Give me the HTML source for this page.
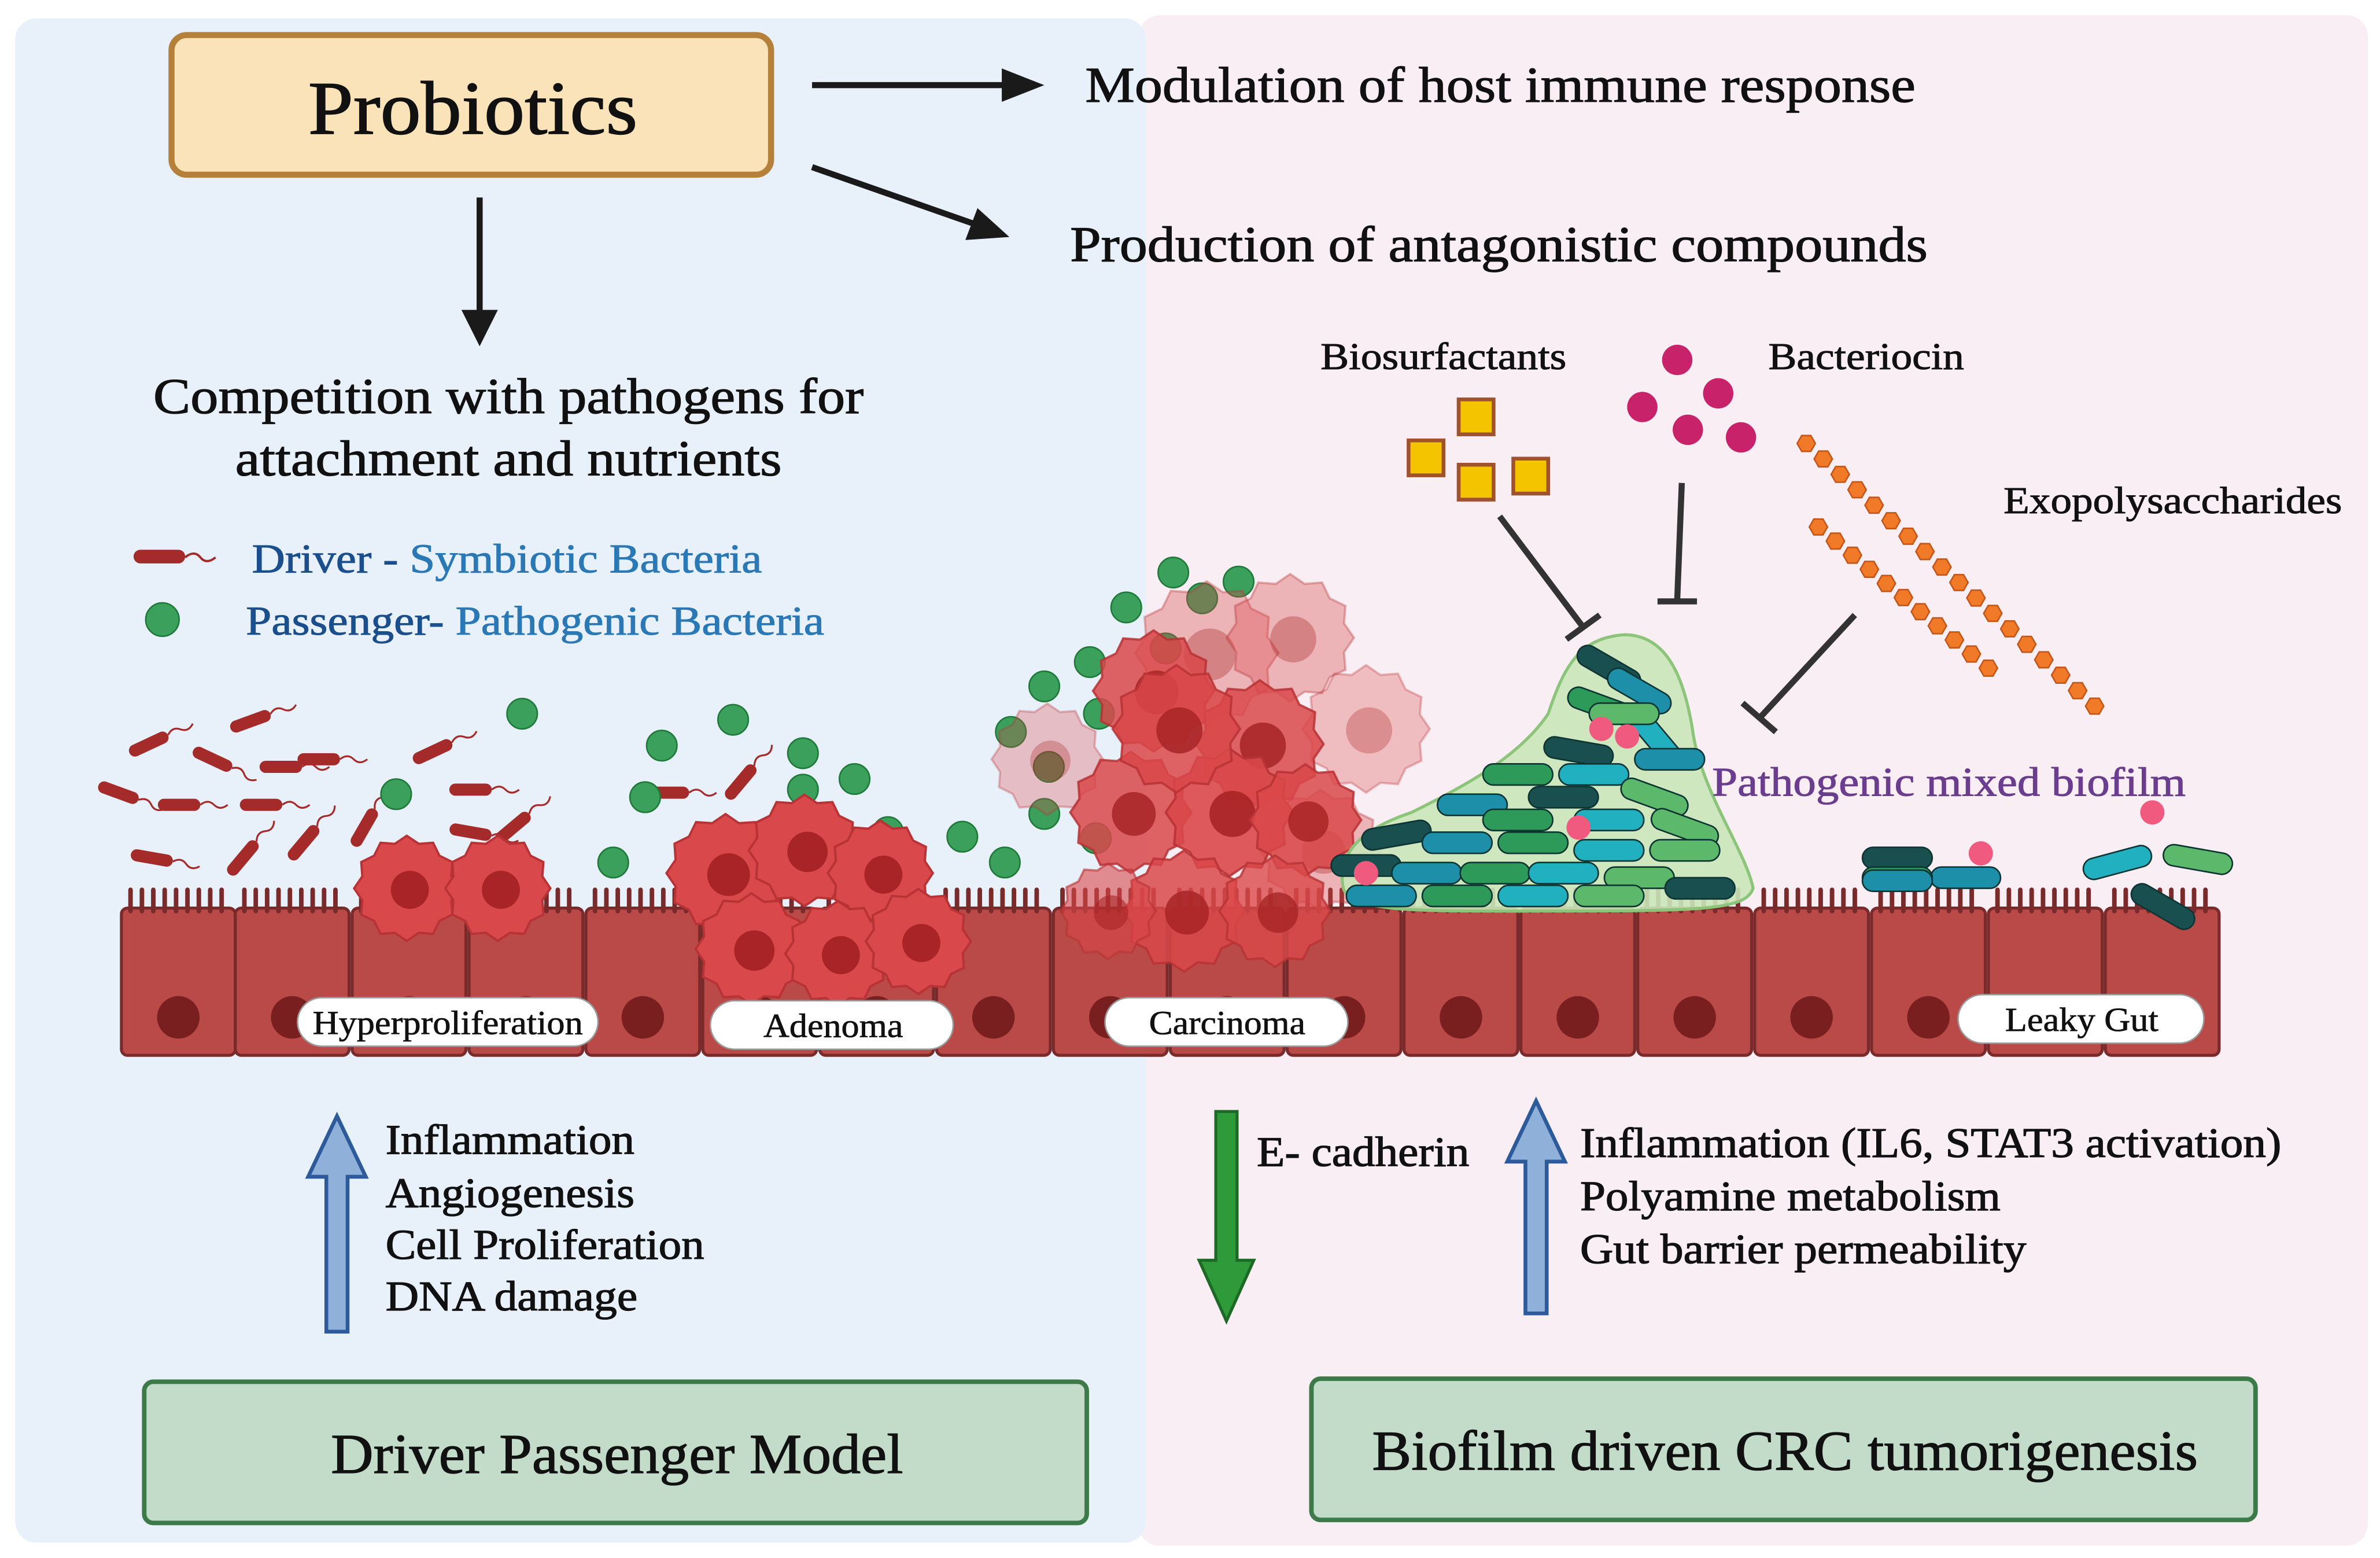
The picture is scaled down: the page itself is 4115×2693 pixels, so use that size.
<!DOCTYPE html>
<html><head><meta charset="utf-8">
<style>
html,body{margin:0;padding:0;background:#fff;}
svg{display:block;}
text{font-family:"Liberation Serif",serif;}
.t{stroke:currentColor;stroke-width:0.5;}
</style></head>
<body>
<svg id="s" width="4115" height="2693" viewBox="0 0 1568 1026" xmlns="http://www.w3.org/2000/svg">
<rect x="0" y="0" width="1568" height="1026" fill="#fff"/>
<rect x="750" y="10" width="810" height="1008" rx="14" fill="#f8eef3"/>
<rect x="10" y="12" width="745" height="1004" rx="14" fill="#e8f1fa"/>

<rect x="113" y="23" width="395" height="92" rx="10" fill="#fbe3b9" stroke="#b5803a" stroke-width="4"/>
<text x="203" y="88" font-size="50" textLength="217" lengthAdjust="spacingAndGlyphs" fill="#111" stroke="#111" stroke-width="0.6">Probiotics</text>

<g stroke="#1a1a1a" stroke-width="4" fill="none">
<line x1="535" y1="56" x2="676" y2="56"/>
<line x1="535" y1="110" x2="655" y2="152"/>
<line x1="316" y1="130" x2="316" y2="215"/>
</g>
<path d="M688,56 L660,45 L660,67z" fill="#1a1a1a"/>
<path d="M665,156 L636,158 L644,137z" fill="#1a1a1a"/>
<path d="M316,228 L304,204 L328,204z" fill="#1a1a1a"/>

<g fill="#111" stroke="#111" stroke-width="0.5" font-size="33">
<text x="715" y="67" textLength="547" lengthAdjust="spacingAndGlyphs">Modulation of host immune response</text>
<text x="705" y="172" textLength="565" lengthAdjust="spacingAndGlyphs">Production of antagonistic compounds</text>
<text x="101" y="272" textLength="468" lengthAdjust="spacingAndGlyphs">Competition with pathogens for</text>
<text x="155" y="313" textLength="360" lengthAdjust="spacingAndGlyphs">attachment and nutrients</text>
</g>

<rect x="88" y="362" width="34" height="9" rx="4.5" fill="#a52a2a"/>
<path d="M122,367 q6,-5 10,0 t10,0" stroke="#a52a2a" stroke-width="1.5" fill="none"/>
<text x="166" y="377" font-size="27" textLength="336" lengthAdjust="spacingAndGlyphs" stroke-width="0.4"><tspan fill="#1b4e8c" stroke="#1b4e8c">Driver - </tspan><tspan fill="#2a78b5" stroke="#2a78b5">Symbiotic Bacteria</tspan></text>
<circle cx="107" cy="408" r="11" fill="#3aa05c" stroke="#1f7a3a"/>
<text x="162" y="418" font-size="27" textLength="381" lengthAdjust="spacingAndGlyphs" stroke-width="0.4"><tspan fill="#1b4e8c" stroke="#1b4e8c">Passenger- </tspan><tspan fill="#2a78b5" stroke="#2a78b5">Pathogenic Bacteria</tspan></text>

<g id="cells"></g>
<g id="bugs"></g>
<g id="tumor"></g>

<path d="M885,585 C880,560 900,545 930,535 C960,520 1000,500 1020,470 C1030,440 1040,420 1070,418 C1100,418 1110,450 1115,480 C1120,520 1150,560 1155,585 C1150,600 1120,600 1000,600 C930,600 890,600 885,585z" fill="#c9e6b8" fill-opacity="0.9" stroke="#8cc47a" stroke-width="2"/>
<g id="film"></g>

<g font-size="25" fill="#111" stroke="#111" stroke-width="0.4">
<text x="870" y="243" textLength="162" lengthAdjust="spacingAndGlyphs">Biosurfactants</text>
<text x="1165" y="243" textLength="129" lengthAdjust="spacingAndGlyphs">Bacteriocin</text>
<text x="1320" y="338" textLength="223" lengthAdjust="spacingAndGlyphs">Exopolysaccharides</text>
</g>
<text x="1128" y="524" font-size="27" fill="#6a3d8f" stroke="#6a3d8f" stroke-width="0.4" textLength="312" lengthAdjust="spacingAndGlyphs">Pathogenic mixed biofilm</text>

<g fill="#f5c400" stroke="#a0522d" stroke-width="2.5">
<rect x="928" y="290" width="23" height="23"/>
<rect x="961" y="263" width="23" height="23"/>
<rect x="961" y="306" width="23" height="23"/>
<rect x="997" y="302" width="23" height="23"/>
</g>
<g fill="#c8236a">
<circle cx="1105" cy="237" r="10"/><circle cx="1082" cy="268" r="10"/>
<circle cx="1132" cy="259" r="10"/><circle cx="1112" cy="283" r="10"/><circle cx="1147" cy="288" r="10"/>
</g>
<g stroke="#333" stroke-width="4" fill="none">
<line x1="988" y1="340" x2="1043" y2="413"/><line x1="1032" y1="421" x2="1054" y2="405"/>
<line x1="1108" y1="318" x2="1105" y2="395"/><line x1="1092" y1="396" x2="1118" y2="396"/>
<line x1="1222" y1="405" x2="1160" y2="472"/><line x1="1148" y1="463" x2="1170" y2="482"/>
</g>
<g id="chain"></g>

<g font-size="22" fill="#111">
<rect x="196" y="657" width="198" height="32" rx="16" fill="#fff" stroke="#999"/><text x="206" y="681" textLength="178" lengthAdjust="spacingAndGlyphs" stroke="#111" stroke-width="0.3">Hyperproliferation</text>
<rect x="468" y="659" width="160" height="32" rx="16" fill="#fff" stroke="#999"/><text x="503" y="683" textLength="92" lengthAdjust="spacingAndGlyphs" stroke="#111" stroke-width="0.3">Adenoma</text>
<rect x="728" y="657" width="160" height="32" rx="16" fill="#fff" stroke="#999"/><text x="757" y="681" textLength="103" lengthAdjust="spacingAndGlyphs" stroke="#111" stroke-width="0.3">Carcinoma</text>
<rect x="1290" y="655" width="162" height="32" rx="16" fill="#fff" stroke="#999"/><text x="1321" y="679" textLength="101" lengthAdjust="spacingAndGlyphs" stroke="#111" stroke-width="0.3">Leaky Gut</text>
</g>

<path d="M215,877 L215,775 L203,775 L222,735 L241,775 L229,775 L229,877z" fill="#8fb0d8" stroke="#2c5a9a" stroke-width="2.5"/>
<g font-size="28" fill="#111" stroke="#111" stroke-width="0.5">
<text x="254" y="760" textLength="164" lengthAdjust="spacingAndGlyphs">Inflammation</text>
<text x="254" y="795" textLength="164" lengthAdjust="spacingAndGlyphs">Angiogenesis</text>
<text x="254" y="829" textLength="210" lengthAdjust="spacingAndGlyphs">Cell Proliferation</text>
<text x="254" y="863" textLength="166" lengthAdjust="spacingAndGlyphs">DNA damage</text>
</g>
<path d="M801,732 L801,830 L790,830 L808,870 L826,830 L815,830 L815,732z" fill="#2e9a3a" stroke="#1d6a27" stroke-width="2"/>
<path d="M1005,865 L1005,765 L993,765 L1012,725 L1031,765 L1019,765 L1019,865z" fill="#8fb0d8" stroke="#2c5a9a" stroke-width="2.5"/>
<g font-size="28" fill="#111" stroke="#111" stroke-width="0.5">
<text x="828" y="768" textLength="140" lengthAdjust="spacingAndGlyphs">E- cadherin</text>
<text x="1041" y="762" textLength="462" lengthAdjust="spacingAndGlyphs">Inflammation (IL6, STAT3 activation)</text>
<text x="1041" y="797" textLength="277" lengthAdjust="spacingAndGlyphs">Polyamine metabolism</text>
<text x="1041" y="832" textLength="294" lengthAdjust="spacingAndGlyphs">Gut barrier permeability</text>
</g>

<rect x="95" y="910" width="621" height="93" rx="6" fill="#c2dcc9" stroke="#3d7a4a" stroke-width="3"/>
<text x="218" y="970" font-size="37" fill="#111" stroke="#111" stroke-width="0.5" textLength="377" lengthAdjust="spacingAndGlyphs">Driver Passenger Model</text>
<rect x="864" y="908" width="622" height="93" rx="6" fill="#c2dcc9" stroke="#3d7a4a" stroke-width="3"/>
<text x="904" y="968" font-size="37" fill="#111" stroke="#111" stroke-width="0.5" textLength="544" lengthAdjust="spacingAndGlyphs">Biofilm driven CRC tumorigenesis</text>
</svg>
<script>
var NS="http://www.w3.org/2000/svg";
function el(p,t,a){var e=document.createElementNS(NS,t);for(var k in a)e.setAttribute(k,a[k]);document.getElementById(p).appendChild(e);return e;}
var xs=[80,155,232,309,386,463,540,617,694,771,848,925,1002,1079,1156,1233,1310,1387];
xs.forEach(function(x,i){
 var w=75;
 el("cells","rect",{x:x,y:598,width:w,height:97,rx:4,fill:"#b94a48",stroke:"#7a2a2a","stroke-width":2});
 for(var j=0;j<9;j++){el("cells","line",{x1:x+6+j*7.5,y1:586,x2:x+6+j*7.5,y2:600,stroke:"#7a2a2a","stroke-width":3,"stroke-linecap":"round"});}
 el("cells","ellipse",{cx:x+w/2,cy:670,rx:14,ry:14,fill:"#7a1f1f"});
});
var rods=[[78,522,20],[98,490,-25],[118,530,0],[140,500,25],[165,475,-20],[172,530,0],[185,505,0],[210,500,0],[100,565,10],[160,565,-50],[200,555,-50],[240,545,-60],[285,495,-25],[310,520,0],[338,545,-40],[310,548,10],[440,522,0],[488,515,-50]];
rods.forEach(function(r){
 var g=el("bugs","g",{transform:"translate("+r[0]+","+r[1]+") rotate("+r[2]+")"});
 var a=document.createElementNS(NS,"rect");a.setAttribute("x",-14);a.setAttribute("y",-4);a.setAttribute("width",28);a.setAttribute("height",8);a.setAttribute("rx",4);a.setAttribute("fill","#a52a2a");g.appendChild(a);
 var p=document.createElementNS(NS,"path");p.setAttribute("d","M14,0 q5,-4 9,0 t9,0");p.setAttribute("stroke","#a52a2a");p.setAttribute("fill","none");p.setAttribute("stroke-width","1.2");g.appendChild(p);
});
var gs=[[344,470],[261,523],[436,491],[483,474],[529,496],[529,520],[563,513],[425,525],[404,568],[585,548],[634,551],[662,568],[773,377],[792,394],[816,383],[742,400],[768,427],[718,436],[688,452],[666,482],[724,470],[691,505],[688,536],[722,552]];
gs.forEach(function(c){el("bugs","circle",{cx:c[0],cy:c[1],r:10,fill:"#3aa05c",stroke:"#1f7a3a","stroke-width":1});});
function blob(cx,cy,r,op){
 var d="";for(var i=0;i<=24;i++){var a=i/24*Math.PI*2;var rr=r*(i%2?0.92:1.05);d+=(i?"L":"M")+(cx+rr*Math.cos(a)).toFixed(1)+","+(cy+rr*Math.sin(a)).toFixed(1);}
 el("tumor","path",{d:d+"z",fill:"#d9484a","fill-opacity":op,stroke:"#b83335","stroke-width":1.5,"stroke-opacity":op});
 el("tumor","circle",{cx:cx+2,cy:cy+1,r:r*0.38,fill:"#a82426","fill-opacity":op});
}
[[795,430,45,0.35],[850,420,40,0.35],[900,480,40,0.3],[690,500,35,0.3],[870,560,38,0.35]].forEach(function(b){blob(b[0],b[1],b[2],b[3]);});
[[268,585,33,1],[328,585,33,1],[478,575,37,1],[530,560,35,1],[580,575,33,1],[495,625,35,1],[552,628,33,1],[605,620,33,1],
 [760,455,38,0.85],[830,490,40,0.85],[745,535,38,0.85],[810,535,40,0.9],[860,540,35,0.85],[780,600,38,0.85],[840,600,35,0.8],[730,600,30,0.6],[775,480,40,0.85]].forEach(function(b){blob(b[0],b[1],b[2],b[3]);});
var cols=["#1a4f4f","#1e8fa8","#2e9a5a","#20b0c0","#5cb86a"];
var bf=[[1060,440,30],[1080,455,30],[1055,465,20],[1090,485,50],[1070,470,0],[1040,495,10],[1100,500,0],[1000,510,0],[1050,510,0],[1090,525,20],[1030,525,0],[970,530,0],[1000,540,0],[1060,540,0],[1110,545,20],[920,550,-10],[960,555,0],[1010,555,0],[1060,560,0],[1110,560,0],[900,570,0],[940,575,0],[985,575,0],[1030,575,0],[1080,578,0],[1120,585,0],[910,590,0],[960,590,0],[1010,590,0],[1060,590,0],[1250,565,0],[1295,578,0],[1250,578,0],[1395,568,-15],[1448,566,10],[1425,597,30],[1250,580,0]];
bf.forEach(function(b,i){
 el("film","rect",{x:-23,y:-7,width:46,height:14,rx:7,fill:cols[i%5],stroke:"#0d3333","stroke-width":1,transform:"translate("+b[0]+","+b[1]+") rotate("+b[2]+")"});
});
[[1055,480],[1072,485],[1040,545],[900,575],[1305,562],[1418,535]].forEach(function(c){el("film","circle",{cx:c[0],cy:c[1],r:8,fill:"#f05a7e"});});
function chain(x1,y1,x2,y2,n){
 for(var i=0;i<n;i++){var t=i/(n-1);var x=x1+(x2-x1)*t,y=y1+(y2-y1)*t;var d="";
  for(var k=0;k<6;k++){var a=k*Math.PI/3;d+=(k?"L":"M")+(x+6*Math.cos(a)).toFixed(1)+","+(y+6*Math.sin(a)).toFixed(1);}
  el("chain","path",{d:d+"z",fill:"#f07a28",stroke:"#c4561a","stroke-width":1});}
}
chain(1190,292,1380,465,18);
chain(1198,347,1310,440,11);
</script>
</body></html>
